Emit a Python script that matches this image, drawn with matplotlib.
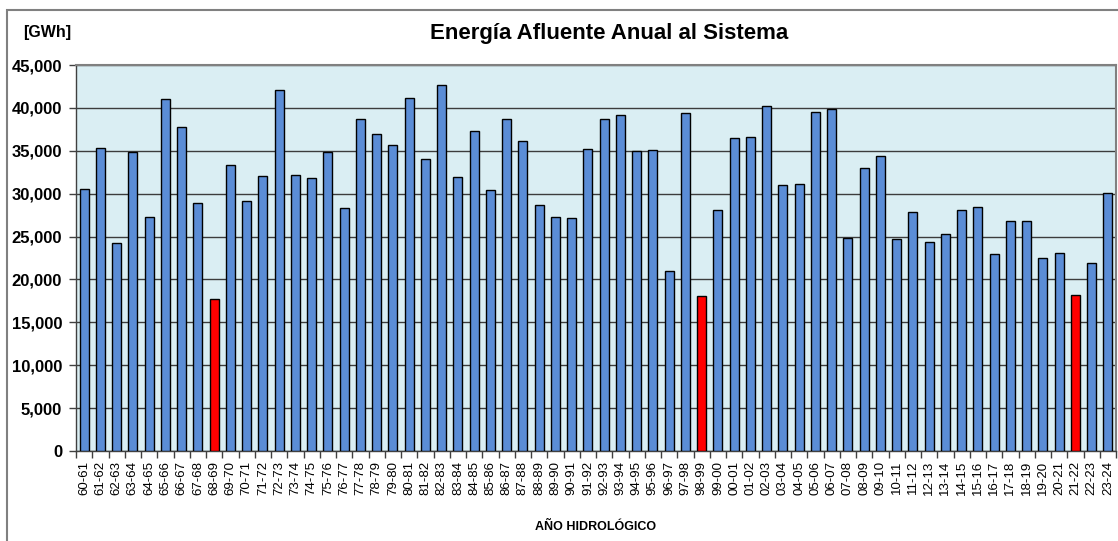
import matplotlib
matplotlib.use("Agg")
import matplotlib.pyplot as plt
from matplotlib.patches import Rectangle
from matplotlib.ticker import FuncFormatter, MultipleLocator

plt.rcParams["font.family"] = ["Liberation Sans", "DejaVu Sans"]

# ---------------- Data ----------------
years = [
    "60-61", "61-62", "62-63", "63-64", "64-65", "65-66", "66-67", "67-68", "68-69", "69-70",
    "70-71", "71-72", "72-73", "73-74", "74-75", "75-76", "76-77", "77-78", "78-79", "79-80",
    "80-81", "81-82", "82-83", "83-84", "84-85", "85-86", "86-87", "87-88", "88-89", "89-90",
    "90-91", "91-92", "92-93", "93-94", "94-95", "95-96", "96-97", "97-98", "98-99", "99-00",
    "00-01", "01-02", "02-03", "03-04", "04-05", "05-06", "06-07", "07-08", "08-09", "09-10",
    "10-11", "11-12", "12-13", "13-14", "14-15", "15-16", "16-17", "17-18", "18-19", "19-20",
    "20-21", "21-22", "22-23", "23-24",
]
energy_gwh = [
    30500, 35300, 24200, 34900, 27250, 41050, 37800, 28900, 17740, 33400,
    29200, 32070, 42060, 32150, 31770, 34890, 28330, 38750, 36940, 35660,
    41200, 34070, 42640, 32000, 37250, 30430, 38720, 36160, 28640, 27330,
    27170, 35150, 38760, 39190, 34920, 35120, 20970, 39460, 18020, 28140,
    36510, 36620, 40230, 31010, 31120, 39530, 39920, 24880, 32950, 34340,
    24730, 27830, 24380, 25350, 28060, 28410, 23000, 26860, 26780, 22480,
    23140, 18140, 21940, 30120,
]
dry_years = ["68-69", "98-99", "21-22"]

BLUE = "#5B8DD6"
RED = "#FF0000"

# ---------------- Figure ----------------
fig = plt.figure(figsize=(11.18, 5.41), dpi=100)
ax = fig.add_axes([76 / 1118, 1 - 451 / 541, (1116 - 76) / 1118, (451 - 65) / 541])

# outer chart border
fig.patches.append(Rectangle((7 / 1118, -0.02), 1.05, 1 - 10 / 541 + 0.02,
                             transform=fig.transFigure, fill=False,
                             edgecolor="#808080", linewidth=1.5, zorder=0))

ax.set_facecolor("#DAEEF3")
colors = [RED if y in dry_years else BLUE for y in years]
x = range(len(years))
ax.bar(x, energy_gwh, width=0.55, color=colors, edgecolor="black", linewidth=1.0, zorder=3)

ax.set_xlim(-0.5, len(years) - 0.5)
ax.set_ylim(0, 45000)
ax.yaxis.set_major_locator(MultipleLocator(5000))
ax.yaxis.set_major_formatter(FuncFormatter(lambda v, p: f"{int(v):,}"))
ax.grid(axis="y", color="#3C3C3C", linewidth=1.0, zorder=1)
ax.set_axisbelow(True)

# category ticks at boundaries, labels centred
ax.set_xticks([i - 0.5 for i in range(len(years) + 1)])
ax.set_xticklabels([])
ax.set_xticks(list(x), minor=True)
ax.set_xticklabels(years, minor=True, rotation=90, fontsize=9.5)
ax.tick_params(axis="x", which="major", direction="out", length=5, width=1, color="#404040")
ax.tick_params(axis="x", which="minor", length=0, pad=7)
ax.tick_params(axis="y", direction="out", length=5, width=1, color="#404040",
               labelsize=12, pad=5)
for lbl in ax.get_yticklabels():
    lbl.set_fontweight("bold")

for side in ("top", "right"):
    ax.spines[side].set_color("#808080")
    ax.spines[side].set_linewidth(1.5)
for side in ("left", "bottom"):
    ax.spines[side].set_color("#404040")
    ax.spines[side].set_linewidth(1.0)

fig.text(609 / 1118, 1 - 33 / 541, "Energía Afluente Anual al Sistema",
         ha="center", va="center", fontsize=16, fontweight="bold")
fig.text(47 / 1118, 1 - 33 / 541, "[GWh]", ha="center", va="center",
         fontsize=11.5, fontweight="bold")
fig.text(596 / 1118, 1 - 527 / 541, "AÑO HIDROLÓGICO", ha="center", va="center",
         fontsize=9, fontweight="bold")

fig.savefig("out.png", dpi=100)
